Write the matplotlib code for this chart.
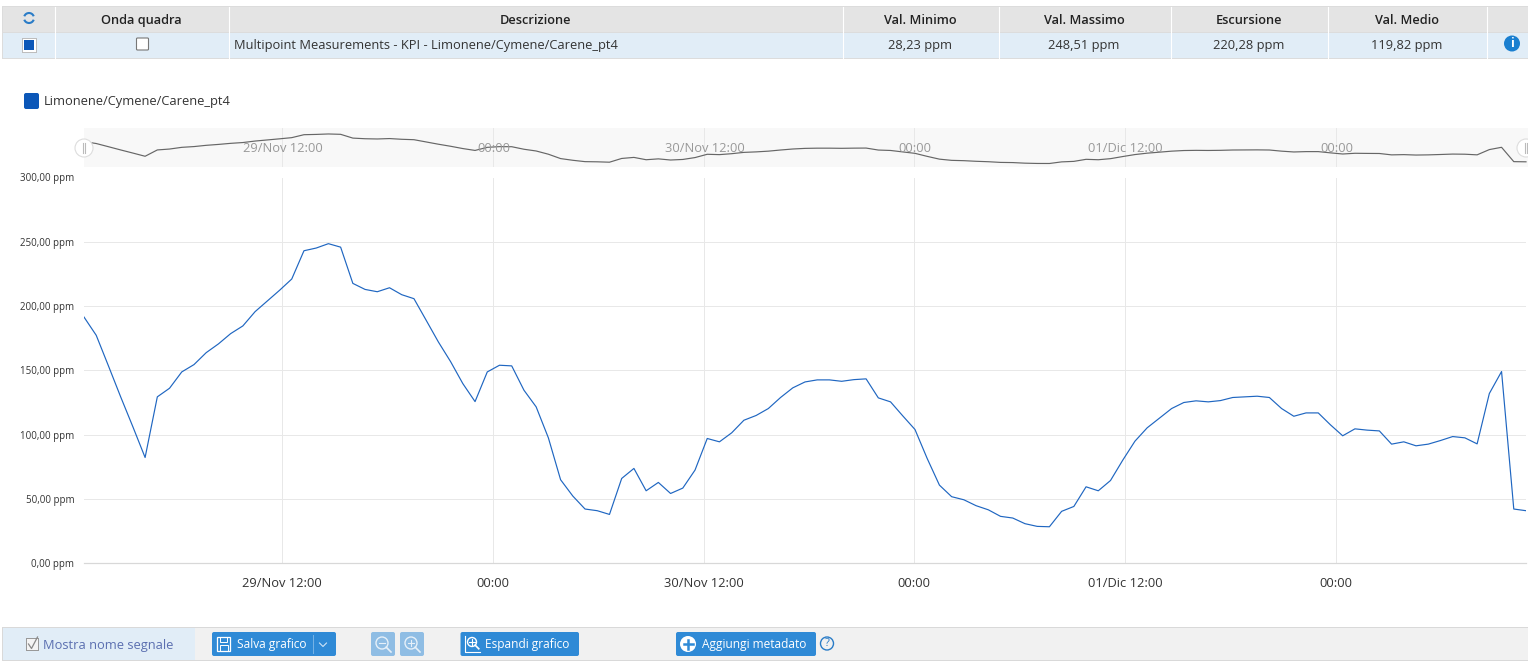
import pandas as pd
import matplotlib
matplotlib.use('Agg')
import matplotlib.pyplot as plt
from matplotlib.patches import Rectangle, FancyBboxPatch, Circle, Arc
from matplotlib.lines import Line2D

plt.rcParams['font.family'] = ['Open Sans', 'DejaVu Sans']

W, H = 1528, 664

# Signal values (ppm), one every ~42 minutes
values = [
    191.4, 177.2, 153.4, 129.3, 106.0, 82.1, 129.3, 136.0, 148.7, 154.4,
    163.7, 170.5, 178.5, 184.5, 195.6, 203.9, 212.2, 221.0, 243.0, 245.1,
    248.5, 245.8, 217.6, 212.9, 211.1, 214.2, 208.8, 205.7, 188.9, 172.0,
    156.7, 139.6, 125.6, 148.7, 153.9, 153.4, 134.5, 121.5, 97.4, 64.8,
    52.1, 42.0, 40.7, 37.8, 65.8, 73.6, 56.2, 62.7, 54.1, 58.3,
    72.3, 96.9, 94.3, 101.3, 111.1, 114.8, 120.2, 128.8, 136.3, 140.9,
    142.5, 142.5, 141.4, 142.7, 143.3, 128.5, 125.4, 114.5, 103.9, 81.3,
    60.6, 51.6, 49.2, 44.6, 41.4, 36.3, 35.0, 30.6, 28.5, 28.2,
    40.2, 44.0, 59.3, 56.2, 64.2, 80.0, 94.8, 105.2, 112.7, 120.2,
    124.9, 126.2, 125.4, 126.4, 128.8, 129.3, 129.8, 128.8, 120.2, 114.2,
    116.8, 116.8, 107.5, 99.0, 104.4, 103.4, 102.8, 92.5, 94.3, 91.2,
    92.5, 95.3, 98.4, 97.4, 92.7, 131.9, 149.0, 42.0, 40.7,
]
times = pd.date_range('2021-11-29 00:42', periods=len(values), freq='2506s')

x_ticks = pd.to_datetime(['2021-11-29 12:00', '2021-11-30 00:00', '2021-11-30 12:00',
                          '2021-12-01 00:00', '2021-12-01 12:00', '2021-12-02 00:00'])
x_labels = ['29/Nov 12:00', '00:00', '30/Nov 12:00', '00:00', '01/Dic 12:00', '00:00']
y_ticks = [0, 50, 100, 150, 200, 250, 300]
y_labels = ['0,00 ppm', '50,00 ppm', '100,00 ppm', '150,00 ppm', '200,00 ppm', '250,00 ppm', '300,00 ppm']

headers = ['Onda quadra', 'Descrizione', 'Val. Minimo', 'Val. Massimo', 'Escursione', 'Val. Medio']
stats = ['28,23 ppm', '248,51 ppm', '220,28 ppm', '119,82 ppm']
series_name = 'Limonene/Cymene/Carene_pt4'
description = 'Multipoint Measurements - KPI - ' + series_name

BLUE = '#1f66c1'
BTN = '#2f8ad6'
BTN_OFF = '#8fbde4'


def px_axes(left, top, right, bottom, **kw):
    return fig.add_axes([left / W, 1 - bottom / H, (right - left) / W, (bottom - top) / H], **kw)


fig = plt.figure(figsize=(W / 100, H / 100), dpi=100, facecolor='white')

# page layer in pixel coordinates, for the table and the toolbar
page = px_axes(0, 0, W, H)
page.set_xlim(0, W)
page.set_ylim(H, 0)
page.axis('off')


def rect(x0, y0, x1, y1, color, **kw):
    page.add_patch(Rectangle((x0, y0), x1 - x0, y1 - y0, facecolor=color, edgecolor='none', **kw))


def button(x0, x1, color, y0=632, y1=656):
    page.add_patch(FancyBboxPatch((x0 + 2, y0 + 2), x1 - x0 - 4, y1 - y0 - 4,
                                  boxstyle='round,pad=2', facecolor=color, edgecolor='none'))


def magnifier(cx, cy, r=6, color='white', sign=None):
    page.add_patch(Circle((cx, cy), r, fill=False, edgecolor=color, lw=1))
    page.add_line(Line2D([cx + r * 0.7, cx + r * 1.5], [cy + r * 0.7, cy + r * 1.5], color=color, lw=1.2))
    page.add_line(Line2D([cx - 3, cx + 3], [cy, cy], color=color, lw=0.8))
    if sign == '+':
        page.add_line(Line2D([cx, cx], [cy - 3, cy + 3], color=color, lw=0.8))


# table
rect(2, 6, W, 59, '#dcdcdc')
rect(3, 7, W, 32, '#e4e4e4')
rect(3, 33, W, 58, '#e1edf7')
col_edges = [54.5, 228.5, 842.5, 998.5, 1170.5, 1328, 1486.5]
for xc in col_edges:
    page.plot([xc, xc], [7, 58], color='white', lw=0.8)

header_x = [141.5, 535.5, 920, 1084, 1249, 1407]
for xc, label in zip(header_x, headers):
    page.text(xc, 20.5, label, ha='center', va='center', fontsize=9.2, color='#222222', fontweight='semibold')
page.text(234, 45.5, description, ha='left', va='center', fontsize=9.3, color='#333333')
for xc, label in zip(header_x[2:], stats):
    page.text(xc, 45.5, label, ha='center', va='center', fontsize=9.3, color='#333333')

# refresh icon
page.add_patch(Arc((29, 18), 10, 10, theta1=200, theta2=340, color='#2a7cc7', lw=1.5))
page.add_patch(Arc((29, 18), 10, 10, theta1=20, theta2=160, color='#2a7cc7', lw=1.5))

# table checkboxes
rect(21.5, 37.5, 36.5, 52.5, '#bdbdbd')
rect(22.5, 38.5, 35.5, 51.5, 'white')
rect(24, 40, 34, 50, '#0b57b8')
page.add_patch(FancyBboxPatch((137.5, 39), 10, 10, boxstyle='round,pad=1',
                              facecolor='white', edgecolor='#777777', lw=0.8))
# info icon
page.add_patch(Circle((1512, 43.5), 8, facecolor='#1a7fd0', edgecolor='none'))
page.text(1512, 43.5, 'i', ha='center', va='center', fontsize=9, color='white', fontweight='bold')

# legend
page.add_patch(FancyBboxPatch((26, 95), 11, 12, boxstyle='round,pad=2',
                              facecolor='#0b57b8', edgecolor='none'))
page.text(44, 101, series_name, ha='left', va='center', fontsize=9.3, color='#333333')

# toolbar
rect(2, 627, W, 661, '#d9d9d9')
rect(3, 628, W, 660, '#f1f1f1')
rect(3, 628, 194.5, 660, '#e1edf7')
rect(26, 638, 38.5, 651, '#999999')
rect(27, 639, 37.5, 650, '#f4f4f4')
page.plot([28.5, 31.5, 37.5], [644, 648.5, 637], color='#888888', lw=0.9)
page.text(43, 645, 'Mostra nome segnale', ha='left', va='center', fontsize=9.3, color='#5b6fb0')

button(212, 336, BTN)
page.add_patch(Rectangle((217, 637), 13, 14, fill=False, edgecolor='white', lw=0.9))
page.add_patch(Rectangle((220, 637), 7, 4.5, fill=False, edgecolor='white', lw=0.7))
page.add_patch(Rectangle((219.5, 645), 8, 6, fill=False, edgecolor='white', lw=0.7))
page.text(237, 644.5, 'Salva grafico', ha='left', va='center', fontsize=8.6, color='white')
page.plot([312.5, 312.5], [635, 653], color='#78b4e6', lw=0.7)
page.plot([319.5, 323, 326.5], [643, 646.5, 643], color='#cfe4f6', lw=0.8)

button(371, 395, BTN_OFF)
magnifier(382, 643, color='#e6f0f9')
button(400, 424, BTN_OFF)
magnifier(411, 643, color='#e6f0f9', sign='+')

button(460.5, 579, BTN)
magnifier(472, 642, r=4.5, sign='+')
page.plot([465, 465, 480], [636, 651.5, 651.5], color='white', lw=0.8)
page.text(485, 644.5, 'Espandi grafico', ha='left', va='center', fontsize=8.6, color='white')

button(676, 816, BTN)
page.add_patch(Circle((688, 644), 8, facecolor='white', edgecolor='none'))
page.plot([683.5, 692.5], [644, 644], color=BTN, lw=1.8)
page.plot([688, 688], [639.5, 648.5], color=BTN, lw=1.8)
page.text(701.5, 644.5, 'Aggiungi metadato', ha='left', va='center', fontsize=8.6, color='white')
page.add_patch(Circle((827, 643.5), 6.5, fill=False, edgecolor='#2a7cc7', lw=1))
page.text(827, 643.5, '?', ha='center', va='center', fontsize=8, color='#2a7cc7')

# main chart
ax = px_axes(84, 177.5, 1526, 563)
ax.patch.set_alpha(0)
ax.plot(times, values, color=BLUE, lw=0.85)
ax.set_xlim(times[0], times[-1])
ax.set_ylim(0, 300)
ax.set_xticks(x_ticks)
ax.set_xticklabels(x_labels, fontsize=9.3, color='#333333')
ax.set_yticks(y_ticks)
ax.set_yticklabels(y_labels, fontsize=7, color='#333333')
ax.tick_params(axis='x', length=0, pad=10)
ax.tick_params(axis='y', length=0, pad=7)
ax.grid(True, color='#e8e8e8', lw=0.72)
ax.set_axisbelow(True)
for name in ['top', 'left', 'right']:
    ax.spines[name].set_visible(False)
ax.spines['bottom'].set_color('#d8d8d8')
ax.spines['bottom'].set_linewidth(0.9)

# navigator strip above the chart
nav = px_axes(84, 128, 1528, 167)
nav.set_facecolor('#f8f8f8')
nav.plot(times, values, color='#666666', lw=0.85)
nav.set_xlim(times[0], times[-1] + (times[-1] - times[0]) * 2 / 1442)
nav.set_ylim(2, 293)
nav.set_yticks([])
nav.set_xticks(x_ticks)
nav.set_xticklabels([])
nav.tick_params(axis='x', length=0)
nav.grid(True, axis='x', color='#e8e8e8', lw=0.72)
nav.set_axisbelow(True)
for spine in nav.spines.values():
    spine.set_visible(False)

# navigator labels and handles go on a top layer in pixel coordinates
top = px_axes(0, 0, W, H)
top.set_xlim(0, W)
top.set_ylim(H, 0)
top.axis('off')
top.patch.set_alpha(0)
for xc, label in zip([282.5, 493.5, 704.5, 914.5, 1125.5, 1336.5], x_labels):
    top.text(xc, 148.5, label, ha='center', va='center', fontsize=9.3, color='#999999')
for xc in [84, 1526]:
    top.add_patch(Circle((xc, 148), 9, facecolor='white', edgecolor='#dddddd', lw=0.8, clip_on=False))
    top.plot([xc - 1.2, xc - 1.2], [143, 153], color='#bbbbbb', lw=0.8)
    top.plot([xc + 1.2, xc + 1.2], [143, 153], color='#bbbbbb', lw=0.8)

fig.savefig('out.png', dpi=100)
